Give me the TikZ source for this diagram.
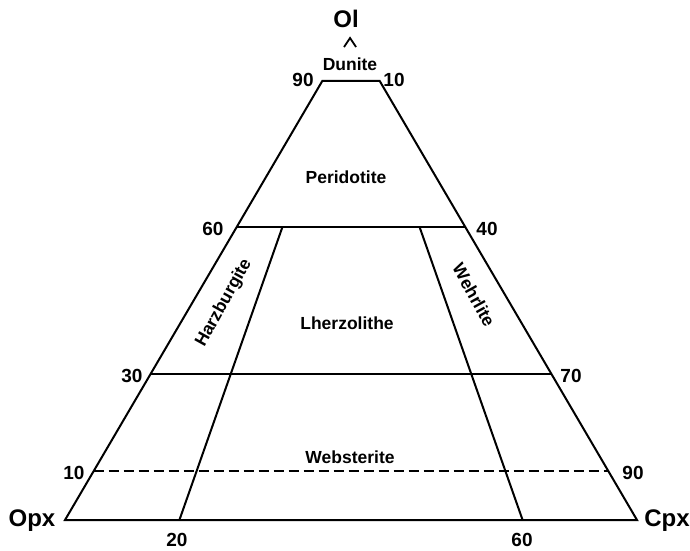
\documentclass[tikz,border=0pt]{standalone}
\usepackage{fontspec}
\setmainfont{Liberation Sans}
\usetikzlibrary{calc}

\begin{document}
\begin{tikzpicture}[x=1pt,y=-1pt,
  side/.style={line width=2pt},
  num/.style={font=\fontsize{19}{19}\selectfont\bfseries},
  rock/.style={font=\fontsize{17.5}{18}\selectfont\bfseries},
  apexlbl/.style={font=\fontsize{24}{24}\selectfont\bfseries}]
\useasboundingbox (0,0) rectangle (690,550);
\coordinate (opx) at (65,520);
\coordinate (cpx) at (637,520);
\coordinate (ol) at (351,32);
% points on the two sides
\coordinate (l90) at ($(opx)!0.9!(ol)$);
\coordinate (r90) at ($(cpx)!0.9!(ol)$);
\coordinate (l60) at ($(opx)!0.6!(ol)$);
\coordinate (r60) at ($(cpx)!0.6!(ol)$);
\coordinate (l30) at ($(opx)!0.3!(ol)$);
\coordinate (r30) at ($(cpx)!0.3!(ol)$);
\coordinate (l10) at ($(opx)!0.1!(ol)$);
\coordinate (r10) at ($(cpx)!0.1!(ol)$);
\coordinate (b20) at ($(opx)!0.2!(cpx)$);
\coordinate (b80) at ($(opx)!0.8!(cpx)$);
\coordinate (h60) at ($(b20)!0.6!(ol)$);
\coordinate (w60) at ($(b80)!0.6!(ol)$);
\draw[side] (l90) -- (opx) -- (cpx) -- (r90) -- cycle;
\draw[side] (l60) -- (r60);
\draw[side] (l30) -- (r30);
\draw[line width=1.5pt,dash pattern=on 10pt off 5pt] (l10) -- (r10);
\draw[side] (b20) -- (h60);
\draw[side] (b80) -- (w60);
% corner labels
\node[apexlbl] (tOl) at (346,19) {Ol};
\draw[line width=1.8pt] (344,47) -- (350,38) -- (356,47);
\node[apexlbl] (tOpx) at (32,521) {Opx};
\node[apexlbl] (tCpx) at (667,521) {Cpx};
% rock names
\node[rock] (dun) at (350,64) {Dunite};
\node[rock] (per) at (346,177) {Peridotite};
\node[rock] (lhz) at (347,323) {Lherzolithe};
\node[rock] (web) at (350,457) {Websterite};
\node[rock,rotate=61] (hzb) at (224,303) {Harzburgite};
\node[rock,rotate=-61] (whr) at (474,295) {Wehrlite};
% scale values
\node[num] (n90) at (303,80) {90};
\node[num] (n10) at (394,80) {10};
\node[num] (n60) at (213,229) {60};
\node[num] (n40) at (487,229) {40};
\node[num] (n30) at (132,376) {30};
\node[num] (n70) at (571,376) {70};
\node[num] (m10) at (74,473) {10};
\node[num] (m90) at (633,473) {90};
\node[num] (n20) at (177,540) {20};
\node[num] (m60) at (522,540) {60};
\end{tikzpicture}
\end{document}
